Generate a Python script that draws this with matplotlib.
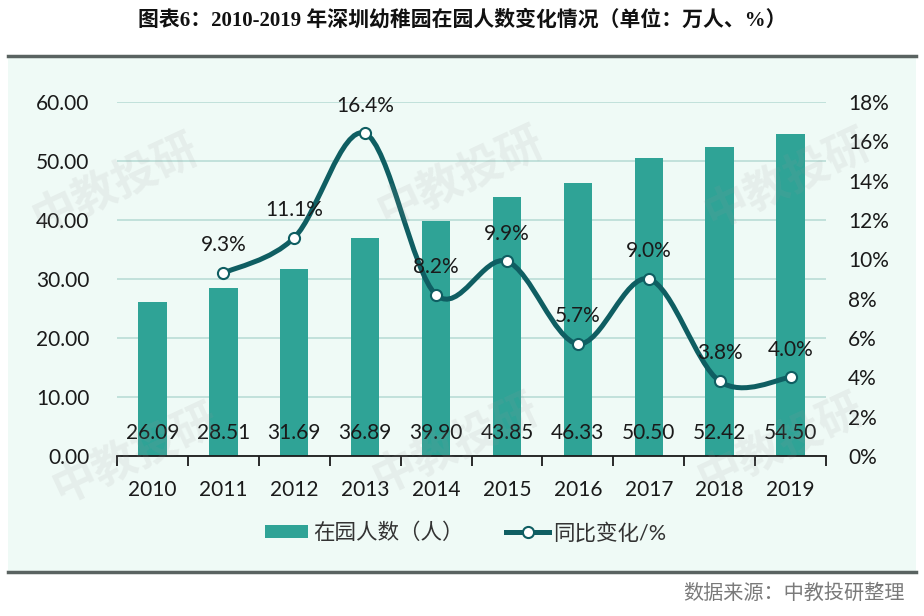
import matplotlib
matplotlib.use("Agg")
import matplotlib.pyplot as plt
from matplotlib.path import Path
from matplotlib.patches import PathPatch, Rectangle
from matplotlib.lines import Line2D
from matplotlib.ticker import FixedLocator, FuncFormatter
import matplotlib.transforms as mtransforms

years = ["2010", "2011", "2012", "2013", "2014", "2015", "2016", "2017", "2018", "2019"]
enrolment = [26.09, 28.51, 31.69, 36.89, 39.90, 43.85, 46.33, 50.50, 52.42, 54.50]
growth_years = ["2011", "2012", "2013", "2014", "2015", "2016", "2017", "2018", "2019"]
growth = [9.3, 11.1, 16.4, 8.2, 9.9, 5.7, 9.0, 3.8, 4.0]
left_ticks = [0, 10, 20, 30, 40, 50, 60]
right_ticks = [0, 2, 4, 6, 8, 10, 12, 14, 16, 18]

title = "图表6：2010-2019 年深圳幼稚园在园人数变化情况（单位：万人、%）"
bar_label = "在园人数（人）"
line_label = "同比变化/%"
source = "数据来源：中教投研整理"
watermark = "中教投研"

BAR = "#2fa396"
LINE = "#0f5e62"
GRID = "#b9ddd6"
BG = "#effaf6"
TXT = "#1a1a1a"
NUM = 15

FONT = ["Lato", "Noto Sans CJK SC", "DejaVu Sans"]
plt.rcParams["font.family"] = FONT

fig = plt.figure(figsize=(9.24, 6.16), dpi=100)
fig.patch.set_facecolor("white")

W, H = 924, 616
def fx(px): return px / W
def fy(py): return 1 - py / H

# panel background and borders
bg = Rectangle((fx(8), fy(572)), fx(916) - fx(8), fy(57) - fy(572),
               transform=fig.transFigure, facecolor=BG, edgecolor="none", zorder=-10)
fig.add_artist(bg)
fig.add_artist(Line2D([fx(8), fx(916)], [fy(56), fy(56)], color="#5a6361", lw=2.5, zorder=1))
fig.add_artist(Line2D([fx(8), fx(916)], [fy(572), fy(572)], color="#5a6361", lw=2.5, zorder=1))

ax = fig.add_axes([fx(117), fy(456), fx(826) - fx(117), fy(102) - fy(456)])
ax.set_facecolor("none")
x = list(range(len(years)))
ax.bar(x, enrolment, width=0.4, color=BAR, zorder=2)
ax.set_xlim(-0.5, len(years) - 0.5)
ax.set_ylim(0, 60)
ax.yaxis.set_major_locator(FixedLocator(left_ticks))
ax.yaxis.set_major_formatter(FuncFormatter(lambda v, p: f"{v:.2f}"))
ax.grid(axis="y", color=GRID, lw=1.2, zorder=0)
ax.set_axisbelow(True)
for s in ["top", "left", "right"]:
    ax.spines[s].set_visible(False)
ax.spines["bottom"].set_color("#1a1a1a")
ax.spines["bottom"].set_linewidth(1.3)
ax.spines["bottom"].set_zorder(5)
ax.set_xticks(x)
ax.set_xticklabels(years)
ax.set_xticks([i - 0.5 for i in range(len(years) + 1)], minor=True)
ax.tick_params(axis="x", which="major", length=0, pad=17, labelsize=NUM, labelcolor=TXT)
ax.tick_params(axis="x", which="minor", length=7, width=1.3, color="#1a1a1a", direction="out")
ax.tick_params(axis="y", length=0, pad=20, labelsize=NUM, labelcolor=TXT)

trans = mtransforms.blended_transform_factory(ax.transData, ax.transAxes)
for xi, v in zip(x, enrolment):
    ax.text(xi, 0.066, f"{v:.2f}", transform=trans, ha="center", va="center",
            fontsize=NUM, color=TXT, zorder=6)

ax2 = ax.twinx()
ax2.set_ylim(0, 18)
ax2.yaxis.set_major_locator(FixedLocator(right_ticks))
ax2.yaxis.set_major_formatter(FuncFormatter(lambda v, p: f"{int(v)}%"))
for s in ["top", "left", "right", "bottom"]:
    ax2.spines[s].set_visible(False)
ax2.tick_params(axis="y", length=0, pad=16, labelsize=NUM, labelcolor=TXT)

gx = [years.index(g) for g in growth_years]
gy = growth

# smooth (Excel-like) curve through the points using cubic Bezier segments
verts = [(gx[0], gy[0])]
codes = [Path.MOVETO]
n = len(gx)
for i in range(n - 1):
    p0 = (gx[max(i - 1, 0)], gy[max(i - 1, 0)])
    p1 = (gx[i], gy[i])
    p2 = (gx[i + 1], gy[i + 1])
    p3 = (gx[min(i + 2, n - 1)], gy[min(i + 2, n - 1)])
    c1 = (p1[0] + (p2[0] - p0[0]) / 6, p1[1] + (p2[1] - p0[1]) / 6)
    c2 = (p2[0] - (p3[0] - p1[0]) / 6, p2[1] - (p3[1] - p1[1]) / 6)
    verts += [c1, c2, p2]
    codes += [Path.CURVE4] * 3
ax2.add_patch(PathPatch(Path(verts, codes), facecolor="none", edgecolor=LINE, lw=3.6,
                        capstyle="round", joinstyle="round", zorder=3))
ax2.plot(gx, gy, linestyle="none", marker="o", markersize=8, markerfacecolor="white",
         markeredgecolor=LINE, markeredgewidth=1.5, zorder=4)
for xi, v in zip(gx, gy):
    ax2.annotate(f"{v:.1f}%", (xi, v), xytext=(0, 20), textcoords="offset points",
                 ha="center", va="center", fontsize=NUM, color=TXT, zorder=6)

# legend
h_bar = Rectangle((0, 0), 1, 1, facecolor=BAR, edgecolor="none")
h_line = Line2D([], [], color=LINE, lw=3.6, marker="o", markersize=8,
                markerfacecolor="white", markeredgecolor=LINE, markeredgewidth=1.5)
leg = fig.legend([h_bar, h_line], [bar_label, line_label], loc="center",
                 bbox_to_anchor=(fx(466), fy(533)), ncol=2, frameon=False,
                 fontsize=15.5, handlelength=2.0, handleheight=0.55, handletextpad=0.2,
                 columnspacing=2.0, labelcolor="#333333")

# title and source
fig.text(0.5, fy(20), title, ha="center", va="center", fontsize=15, fontweight="bold",
         family=["Liberation Serif", "Noto Sans CJK SC"], color="#111111")
fig.text(fx(905), fy(593), source, ha="right", va="center", fontsize=14.5,
         color="#7a7a7a", family=["Noto Sans CJK SC"])

# watermarks
for (wx, wy) in [(115, 185), (460, 178), (787, 180), (135, 455), (455, 445), (780, 445)]:
    fig.text(fx(wx), fy(wy), watermark, ha="center", va="center", fontsize=32,
             rotation=25, color="#9a9a9a", alpha=0.12, fontweight="bold",
             family=["Noto Sans CJK SC"], zorder=10)

fig.savefig("out.png", dpi=100, facecolor="white")
